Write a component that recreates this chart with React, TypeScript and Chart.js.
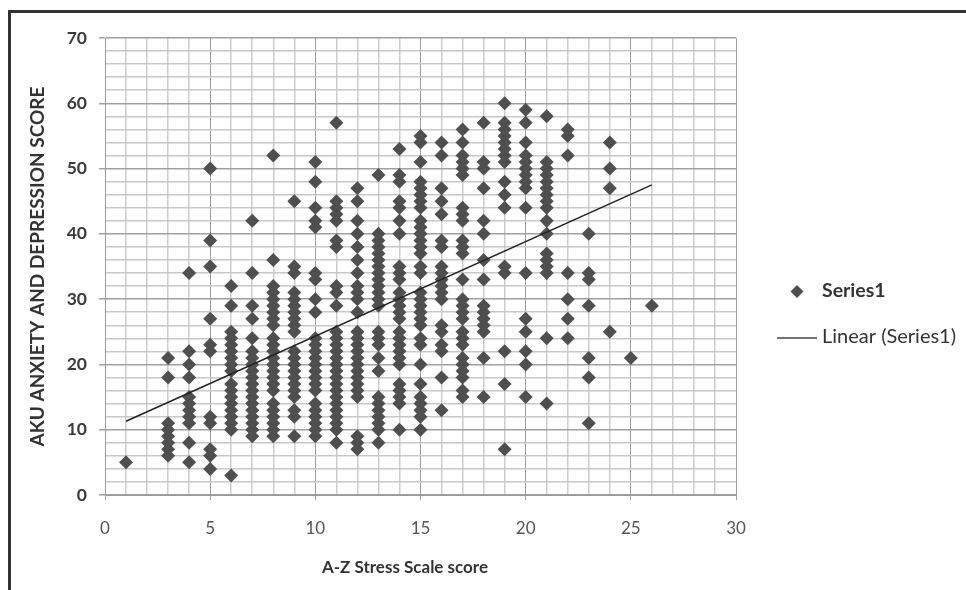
import React, { useEffect, useRef } from "react";
import { Chart, registerables } from "chart.js";

Chart.register(...registerables);

const FONT = "Lato";
const xTitle = "A-Z Stress Scale score";
const yTitle = "AKU ANXIETY AND DEPRESSION SCORE";
const seriesName = "Series1";
const trendName = "Linear (Series1)";

const xColumns = [1, 3, 4, 5, 6, 7, 8, 9, 10, 11, 12, 13, 14, 15, 16, 17, 18, 19, 20, 21, 22, 23, 24, 25, 26];
const yColumns = [
  [5],
  [6, 7, 8, 9, 10, 11, 18, 21],
  [5, 8, 11, 12, 13, 14, 15, 18, 20, 22, 34],
  [4, 6, 7, 11, 12, 22, 23, 27, 35, 39, 50],
  [3, 10, 11, 12, 13, 14, 15, 16, 17, 19, 20, 21, 22, 23, 24, 25, 29, 32],
  [9, 10, 11, 12, 13, 14, 15, 16, 17, 18, 19, 20, 21, 22, 24, 27, 29, 34, 42],
  [9, 10, 11, 12, 13, 14, 16, 17, 18, 19, 20, 21, 22, 23, 24, 26, 27, 28, 29, 30, 31, 32, 36, 52],
  [9, 12, 13, 15, 16, 17, 18, 19, 20, 21, 22, 25, 26, 27, 28, 29, 30, 31, 34, 35, 45],
  [9, 10, 11, 12, 13, 14, 16, 17, 18, 19, 20, 21, 22, 23, 24, 28, 30, 33, 34, 41, 42, 44, 48, 51],
  [8, 10, 11, 12, 13, 14, 15, 16, 17, 18, 19, 20, 21, 22, 23, 24, 25, 29, 31, 32, 38, 39, 42, 43, 44, 45, 57],
  [7, 8, 9, 15, 16, 17, 18, 19, 20, 21, 22, 23, 24, 25, 28, 30, 31, 32, 34, 36, 38, 40, 42, 45, 47],
  [8, 10, 11, 12, 13, 14, 15, 19, 21, 23, 24, 25, 29, 30, 31, 32, 33, 34, 35, 36, 37, 38, 39, 40, 49],
  [10, 14, 15, 16, 17, 20, 21, 22, 23, 24, 25, 27, 28, 29, 30, 31, 33, 34, 35, 40, 42, 44, 45, 48, 49, 53],
  [10, 12, 13, 14, 15, 17, 20, 23, 24, 26, 27, 28, 29, 30, 31, 34, 35, 37, 38, 39, 40, 41, 42, 44, 45, 46, 47, 48, 51, 54, 55],
  [13, 18, 22, 23, 25, 26, 30, 31, 32, 33, 34, 35, 38, 39, 43, 45, 47, 52, 54],
  [15, 16, 18, 19, 20, 21, 23, 24, 25, 27, 28, 29, 30, 33, 37, 38, 39, 42, 43, 44, 49, 50, 51, 52, 54, 56],
  [15, 21, 25, 26, 27, 28, 29, 33, 36, 40, 42, 47, 50, 51, 57],
  [7, 17, 22, 34, 35, 44, 46, 48, 51, 52, 53, 54, 55, 56, 57, 60],
  [15, 20, 22, 25, 27, 34, 44, 47, 48, 49, 50, 51, 52, 54, 57, 59],
  [14, 24, 34, 35, 36, 37, 40, 42, 44, 45, 46, 47, 48, 49, 50, 51, 58],
  [24, 27, 30, 34, 52, 55, 56],
  [11, 18, 21, 29, 33, 34, 40],
  [25, 47, 50, 54],
  [21],
  [29],
];
const trendX = [1, 26];
const trendY = [11.3, 47.5];

const markerColor = "#4f4f4f";
const trendColor = "#222222";
const textColor = "#333333";

const points = xColumns.flatMap((x, i) => yColumns[i].map((y) => ({ x, y })));
const trendPoints = trendX.map((x, i) => ({ x, y: trendY[i] }));

function fixBox(size: "width" | "height", value: number) {
  return (scale: any) => {
    scale[size] = value;
    scale.paddingTop = 0;
    scale.paddingBottom = 0;
    scale.paddingLeft = 0;
    scale.paddingRight = 0;
  };
}

const sideLegend = {
  id: "sideLegend",
  afterDraw(chart: any) {
    const ctx = chart.ctx;
    ctx.save();
    ctx.fillStyle = markerColor;
    ctx.beginPath();
    ctx.moveTo(797, 285);
    ctx.lineTo(803.5, 291.5);
    ctx.lineTo(797, 298);
    ctx.lineTo(790.5, 291.5);
    ctx.closePath();
    ctx.fill();
    ctx.strokeStyle = "#444444";
    ctx.lineWidth = 1.5;
    ctx.beginPath();
    ctx.moveTo(777, 338);
    ctx.lineTo(817, 338);
    ctx.stroke();
    ctx.fillStyle = textColor;
    ctx.textBaseline = "middle";
    ctx.textAlign = "left";
    ctx.font = `bold 19.5px ${FONT}`;
    ctx.fillText(seriesName, 822, 291);
    ctx.font = `20px ${FONT}`;
    ctx.fillText(trendName, 822, 337);
    ctx.textAlign = "center";
    ctx.font = `bold 17px ${FONT}`;
    ctx.fillText(xTitle, 405, 568);
    ctx.restore();
  },
};

export default function App() {
  const ref = useRef<HTMLCanvasElement>(null);
  useEffect(() => {
    const chart = new Chart(ref.current!, {
      type: "scatter",
      data: {
        datasets: [
          {
            label: seriesName,
            data: points,
            pointStyle: "rectRot",
            pointRadius: 7,
            pointBackgroundColor: markerColor,
            pointBorderWidth: 0,
            showLine: false,
            order: 2,
          },
          {
            label: trendName,
            data: trendPoints,
            showLine: true,
            pointRadius: 0,
            borderColor: trendColor,
            borderWidth: 1.5,
            order: 1,
          },
        ],
      },
      options: {
        responsive: false,
        animation: false,
        devicePixelRatio: 1,
        layout: { padding: { left: 25, right: 230, top: 38, bottom: 11 } },
        plugins: { legend: { display: false }, tooltip: { enabled: false } },
        scales: {
          x: {
            type: "linear",
            min: 0,
            max: 30,
            afterFit: fixBox("height", 84),
            afterBuildTicks: (scale: any) => {
              scale.ticks = Array.from({ length: 31 }, (_, value) => ({ value }));
            },
            border: { color: "#9a9a9a", width: 1 },
            grid: {
              lineWidth: (c: any) => (c.tick && c.tick.value % 5 === 0 ? 1 : 1.5),
              color: (c: any) => (c.tick && c.tick.value % 5 === 0 ? "#9c9c9c" : "#cccccc"),
              tickColor: (c: any) => (c.tick && c.tick.value % 5 === 0 ? "#9c9c9c" : "rgba(0,0,0,0)"),
              tickLength: 5,
            },
            ticks: {
              autoSkip: false,
              maxRotation: 0,
              minRotation: 0,
              padding: 18,
              color: "#555555",
              font: { family: FONT, size: 17 },
              callback: (v: any) => (Number(v) % 5 === 0 ? String(v) : ""),
            },
          },
          y: {
            type: "linear",
            min: 0,
            max: 70,
            afterFit: fixBox("width", 80),
            afterBuildTicks: (scale: any) => {
              scale.ticks = Array.from({ length: 36 }, (_, i) => ({ value: i * 2 }));
            },
            border: { color: "#9a9a9a", width: 1 },
            grid: {
              lineWidth: 1.5,
              color: (c: any) => (c.tick && c.tick.value % 10 === 0 ? "#a0a0a0" : "#c8c8c8"),
              tickColor: (c: any) => (c.tick && c.tick.value % 10 === 0 ? "#a0a0a0" : "rgba(0,0,0,0)"),
              tickLength: 6,
            },
            ticks: {
              autoSkip: false,
              padding: 12,
              color: "#3a3a3a",
              font: { family: FONT, size: 17.5, weight: "bold" },
              callback: (v: any) => (Number(v) % 10 === 0 ? String(v) : ""),
            },
            title: {
              display: true,
              text: yTitle,
              color: textColor,
              font: { family: FONT, size: 19, weight: "bold" },
              padding: { top: 1, bottom: 0 },
            },
          },
        },
      },
      plugins: [sideLegend],
    } as any);
    return () => chart.destroy();
  }, []);

  return (
    <div style={{ position: "fixed", left: 0, top: 0, width: 966, height: 590, overflow: "hidden", background: "#fff" }}>
      <canvas
        ref={ref}
        width={966}
        height={590}
        style={{ position: "absolute", left: 0, top: 0, width: 966, height: 590, filter: "blur(0.7px)" }}
      />
      <div
        style={{
          position: "absolute",
          left: 8,
          top: 10,
          width: 1000,
          height: 1000,
          borderLeft: "3px solid #333",
          borderTop: "3px solid #333",
        }}
      />
    </div>
  );
}
